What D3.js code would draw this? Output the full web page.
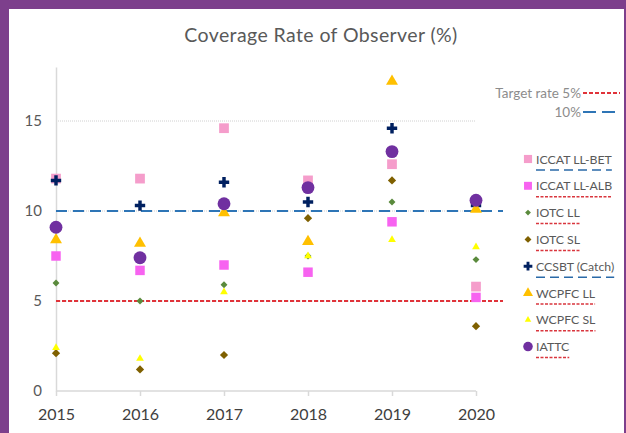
<!DOCTYPE html>
<html>
<head>
<meta charset="utf-8">
<script src="https://cdn.jsdelivr.net/npm/d3@7"></script>
<style>
  html, body { margin: 0; padding: 0; background: #7d3f8c; }
  svg { display: block; }
</style>
</head>
<body>
<div id="viz"></div>
<script>
// Years on the x axis
const years = [2015, 2016, 2017, 2018, 2019, 2020];
const yTicks = [0, 5, 10, 15];

// Observer coverage (%) per RFMO
const iccatBet = [11.8, 11.8, 14.6, 11.7, 12.6, 5.8];
const iccatAlb = [7.5, 6.7, 7.0, 6.6, 9.4, 5.2];
const iotcLl = [6.0, 5.0, 5.9, 7.5, 10.5, 7.3];
const iotcSl = [2.1, 1.2, 2.0, 9.6, 11.7, 3.6];
const ccsbt = [11.7, 10.3, 11.6, 10.5, 14.6, 10.3];
const wcpfcLl = [8.4, 8.2, 9.9, 8.3, 17.2, 10.1];
const wcpfcSl = [2.4, 1.8, 5.5, 7.5, 8.4, 8.0];
const iattc = [9.1, 7.4, 10.4, 11.3, 13.3, 10.6];

const seriesNames = ["ICCAT LL-BET", "ICCAT LL-ALB", "IOTC LL", "IOTC SL",
  "CCSBT (Catch)", "WCPFC LL", "WCPFC SL", "IATTC"];
const seriesValues = [iccatBet, iccatAlb, iotcLl, iotcSl, ccsbt, wcpfcLl, wcpfcSl, iattc];
// target rate of each RFMO (5 or 10) -> underline style in the legend
const seriesTarget = [10, 5, 5, 5, 10, 5, 5, 5];
const targetRates = [5, 10];

let canvasWidth = 626;
let canvasHeight = 433;

let svg = d3.select("#viz").append("svg")
  .attr("width", canvasWidth)
  .attr("height", canvasHeight);

// white card inside the purple frame
svg.append("rect")
  .attr("x", 9).attr("y", 9)
  .attr("width", canvasWidth - 11).attr("height", canvasHeight - 9)
  .attr("fill", "#fff");

let x = d3.scalePoint().domain(years).range([56, 476]);
let y = d3.scaleLinear().domain([0, 18]).range([391, 67]);

const fontFam = "Lato, 'Open Sans', sans-serif";

svg.append("text")
  .attr("x", 321).attr("y", 42)
  .attr("text-anchor", "middle")
  .attr("font-family", fontFam)
  .attr("font-size", 19.5)
  .attr("letter-spacing", 0.4)
  .attr("fill", "#595959")
  .text("Coverage Rate of Observer (%)");

// gridlines (only 15 is visible, others sit under the target lines)
svg.append("g").selectAll("line")
  .data(yTicks.filter(d => d > 0))
  .enter().append("line")
  .attr("x1", x(2015)).attr("x2", x(2020))
  .attr("y1", d => y(d)).attr("y2", d => y(d))
  .attr("stroke", "#d0d0d0")
  .attr("stroke-dasharray", "1,1");

// y axis
let yAxis = svg.append("g")
  .attr("transform", "translate(" + x(2015) + ",0)")
  .call(d3.axisLeft(y).tickValues(yTicks).tickSize(0).tickPadding(14));
yAxis.select(".domain").attr("stroke", "#d9d9d9").attr("stroke-width", 1.5);
yAxis.selectAll("text")
  .attr("font-family", fontFam).attr("font-size", 15).attr("fill", "#595959");

// x axis
let xAxis = svg.append("g")
  .attr("transform", "translate(0," + y(0) + ")")
  .call(d3.axisBottom(x).tickSize(5).tickPadding(13).tickFormat(d3.format("d")));
xAxis.select(".domain").attr("d", "M" + x(2015) + ",0H" + x(2020))
  .attr("stroke", "#d9d9d9").attr("stroke-width", 1.5);
xAxis.selectAll(".tick line").attr("stroke", "#d9d9d9").attr("stroke-width", 1.5);
xAxis.selectAll("text")
  .attr("font-family", fontFam).attr("font-size", 16).attr("fill", "#404040");

// target rate lines
const targetStyle = {
  5: { stroke: "#e0333a", dash: "4,2" },
  10: { stroke: "#2e75b6", dash: "11,6" }
};
svg.append("g").selectAll("line")
  .data(targetRates)
  .enter().append("line")
  .attr("x1", x(2015)).attr("x2", 503)
  .attr("y1", d => y(d)).attr("y2", d => y(d))
  .attr("stroke", d => targetStyle[d].stroke)
  .attr("stroke-width", 2)
  .attr("stroke-dasharray", d => targetStyle[d].dash);

// marker styles per series
const markers = [
  { type: d3.symbolSquare, size: 95, fill: "#f59dcb", rot: 0 },
  { type: d3.symbolSquare, size: 90, fill: "#f763f0", rot: 0 },
  { type: d3.symbolSquare, size: 24, fill: "#5a8a3c", rot: 45 },
  { type: d3.symbolSquare, size: 34, fill: "#7f6000", rot: 45 },
  { type: d3.symbolCross, size: 60, fill: "#002060", rot: 0 },
  { type: d3.symbolTriangle, size: 62, fill: "#ffc000", rot: 0 },
  { type: d3.symbolTriangle, size: 26, fill: "#ffff00", rot: 0 },
  { type: d3.symbolCircle, size: 130, fill: "#7030a0", rot: 0 }
];

function symbolPath(i, k) {
  return d3.symbol().type(markers[i].type).size(markers[i].size * (k || 1))();
}

let pointsRoot = svg.append("g");
seriesValues.forEach((vals, i) => {
  pointsRoot.append("g").selectAll("path")
    .data(vals)
    .enter().append("path")
    .attr("d", symbolPath(i))
    .attr("transform", (d, j) => "translate(" + x(years[j]) + "," + y(d) + ") rotate(" + markers[i].rot + ")")
    .attr("fill", markers[i].fill);
});

// target rate key, top right
let key = svg.append("g");
const keyRows = [
  { label: "Target rate 5%", rate: 5, y: 93 },
  { label: "10%", rate: 10, y: 112 }
];
keyRows.forEach(r => {
  key.append("text")
    .attr("x", 581).attr("y", r.y + 4.5)
    .attr("text-anchor", "end")
    .attr("font-family", fontFam).attr("font-size", 13.5)
    .attr("fill", "#8c8c8c")
    .text(r.label);
  key.append("line")
    .attr("x1", 583).attr("x2", 620)
    .attr("y1", r.y).attr("y2", r.y)
    .attr("stroke", targetStyle[r.rate].stroke)
    .attr("stroke-width", 2)
    .attr("stroke-dasharray", r.rate === 5 ? "4,2" : "13,6");
});

// series legend
let legend = svg.append("g");
const legendTop = 159;
const legendStep = 26.8;
seriesNames.forEach((name, i) => {
  let ly = legendTop + i * legendStep;
  legend.append("path")
    .attr("d", symbolPath(i, i === 7 ? 0.55 : 0.7))
    .attr("transform", "translate(528," + ly + ") rotate(" + markers[i].rot + ")")
    .attr("fill", markers[i].fill);
  let t = legend.append("text")
    .attr("x", 536).attr("y", ly + 4.5)
    .attr("font-family", fontFam).attr("font-size", 12.3)
    .attr("fill", "#595959")
    .text(name);
  let w = t.node().getComputedTextLength();
  legend.append("line")
    .attr("x1", 536).attr("x2", 536 + w)
    .attr("y1", ly + 11).attr("y2", ly + 11)
    .attr("stroke", seriesTarget[i] === 5 ? "#d9363e" : "#2a6aa8")
    .attr("stroke-width", 1.5)
    .attr("stroke-dasharray", seriesTarget[i] === 5 ? "3,1.5" : "9,5");
});
</script>
</body>
</html>
